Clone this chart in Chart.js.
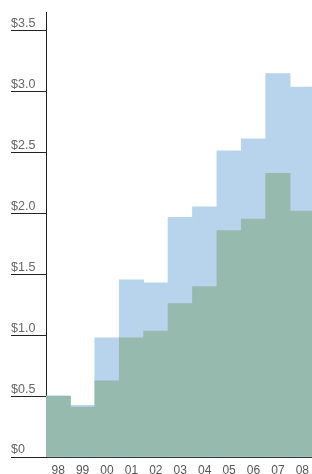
<!DOCTYPE html>
<html>
<head>
<meta charset="utf-8">
<script src="https://cdn.jsdelivr.net/npm/chart.js@4"></script>
<style>
  html, body { margin: 0; padding: 0; background: #fff; overflow: hidden; }
  #clip { width: 312px; height: 474px; overflow: hidden; }
  #wrap { position: relative; width: 315px; height: 474px; }
</style>
</head>
<body>
<div id="clip"><div id="wrap"><canvas id="c"></canvas></div></div>
<script>
const categories = ["98", "99", "00", "01", "02", "03", "04", "05", "06", "07", "08"];
const greenValues = [0.50, 0.41, 0.625, 0.98, 1.035, 1.26, 1.40, 1.86, 1.955, 2.33, 2.02];
const blueValues  = [0.50, 0.425, 0.98, 1.455, 1.43, 1.97, 2.055, 2.515, 2.615, 3.15, 3.04];
const yTicks = [0, 0.5, 1.0, 1.5, 2.0, 2.5, 3.0, 3.5];

const FONT = "'Liberation Sans', Arial, Helvetica, sans-serif";

new Chart(document.getElementById('c'), {
  type: 'bar',
  data: {
    labels: categories,
    datasets: [
      { data: greenValues, backgroundColor: '#96bbae', borderWidth: 0, grouped: false, order: 1,
        barPercentage: 1, categoryPercentage: 1 },
      { data: blueValues, backgroundColor: '#b8d3ec', borderWidth: 0, grouped: false, order: 2,
        barPercentage: 1, categoryPercentage: 1 }
    ]
  },
  options: {
    responsive: true,
    maintainAspectRatio: false,
    animation: false,
    events: [],
    layout: { padding: { left: 11, top: 12, right: 0, bottom: 0 } },
    plugins: { legend: { display: false }, tooltip: { enabled: false } },
    scales: {
      x: {
        grid: { display: false, drawTicks: false },
        border: { display: true, color: '#333', width: 1 },
        ticks: { color: '#555', font: { family: FONT, size: 12 }, padding: 6, maxRotation: 0, autoSkip: false },
        afterFit: s => { s.height = 17; }
      },
      y: {
        min: 0,
        max: 3.656,
        afterBuildTicks: s => { s.ticks = yTicks.map(v => ({ value: v })); },
        grid: { drawOnChartArea: false, drawTicks: true, tickLength: 35, color: '#222', lineWidth: 1 },
        border: { display: true, color: '#222', width: 1 },
        ticks: {
          includeBounds: false,
          crossAlign: 'far',
          labelOffset: -7,
          padding: 0,
          color: '#666',
          font: { family: FONT, size: 12.5 },
          callback: v => v === 0 ? '$0' : '$' + Number(v).toFixed(1)
        },
        afterFit: s => { s.width = 35; }
      }
    }
  }
});
</script>
</body>
</html>
